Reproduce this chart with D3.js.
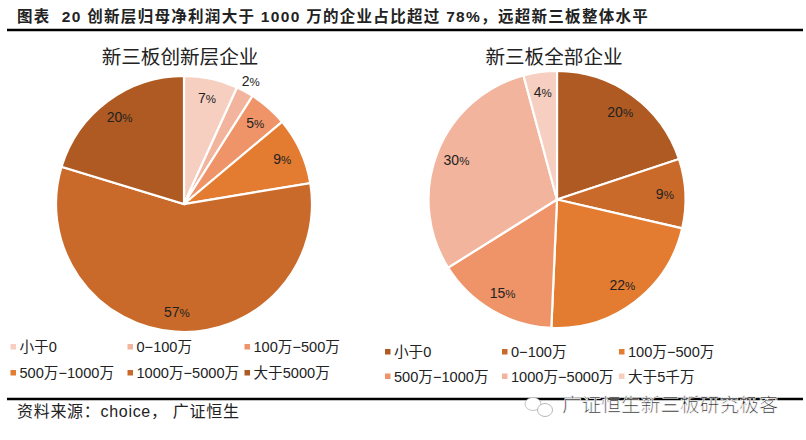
<!DOCTYPE html>
<html><head><meta charset="utf-8">
<script src="https://cdn.jsdelivr.net/npm/d3@7"></script>
<style>
html,body{margin:0;padding:0;background:#fff}
text{font-family:"Liberation Sans","Noto Sans CJK SC",sans-serif;fill:#222}
</style></head><body><svg id="c" width="806" height="440"></svg>
<script>
const heading = "图表  20 创新层归母净利润大于 1000 万的企业占比超过 78%，远超新三板整体水平";
const sourceNote = "资料来源：choice， 广证恒生";
const watermark = "广证恒生新三板研究极客";
const leftTitle = "新三板创新层企业";
const rightTitle = "新三板全部企业";
const leftCategories = ["小于0","0-100万","100万-500万","500万-1000万","1000万-5000万","大于5000万"];
const rightCategories = ["小于0","0-100万","100万-500万","500万-1000万","1000万-5000万","大于5千万"];
const leftValues = [6.8,2.2,4.9,8.5,57.3,20.3];
const rightValues = [19.9,8.7,22.1,15.4,29.7,4.2];
const leftColors = ["#F6CFC1","#F2B49C","#EF9468","#E37B31","#C96A2A","#AE5A22"];
const rightColors = ["#AE5A22","#C96A2A","#E37B31","#EF9468","#F2B49C","#F6CFC1"];

const svg = d3.select("#c");
function rule(y){svg.append("line").attr("x1",7).attr("x2",803).attr("y1",y).attr("y2",y).attr("stroke","#000").attr("stroke-width",2.4);}
rule(30); rule(399);
svg.append("text").attr("x",17).attr("y",22).attr("font-size",15.5).attr("font-weight","bold").attr("letter-spacing",1.3).attr("xml:space","preserve").attr("fill","#111").text(heading);
svg.append("text").attr("x",17).attr("y",417).attr("font-size",16).attr("letter-spacing",0.7).text(sourceNote);

function pie(cfg){
  const g = svg.append("g").attr("transform",`translate(${cfg.cx},${cfg.cy})`);
  const arcs = d3.pie().sort(null)(cfg.values);
  const arc = d3.arc().innerRadius(0).outerRadius(cfg.r);
  g.selectAll("path").data(arcs).join("path").attr("d",arc)
    .attr("fill",(d,i)=>cfg.colors[i]).attr("stroke","#fff").attr("stroke-width",2.2);
  const lab = d3.arc().innerRadius(108).outerRadius(108);
  const out = d3.arc().innerRadius(140).outerRadius(140);
  const t = g.selectAll("text").data(arcs).join("text").attr("text-anchor","middle").attr("dy","0.35em")
    .attr("font-size",14)
    .attr("transform",d=>`translate(${(d.value<3?out:lab).centroid(d)})`);
  t.append("tspan").text(d=>Math.round(d.value));
  t.append("tspan").attr("font-size",11.5).text("%");
  svg.append("text").attr("x",cfg.cx+cfg.tdx).attr("y",cfg.ty).attr("text-anchor","middle").attr("font-size",19.6).attr("fill","#333").text(cfg.title);
  const cols = d3.scalePoint().domain([0,1,2]).range([cfg.lx,cfg.lx+234]);
  const rows = d3.scalePoint().domain([0,1]).range([cfg.ly,cfg.ly+cfg.rowGap]);
  cfg.categories.forEach((c,i)=>{
    const x=cols(i%3), y=rows(Math.floor(i/3));
    svg.append("rect").attr("x",x).attr("y",y-3).attr("width",5.5).attr("height",5.5).attr("fill",cfg.colors[i]);
    svg.append("text").attr("x",x+9).attr("y",y+5).attr("font-size",14.6).attr("fill","#333").text(c.replace("-","−"));
  });
}
pie({cx:184,cy:204,r:128,values:leftValues,colors:leftColors,categories:leftCategories,title:leftTitle,tdx:-4,ty:64,lx:10.5,ly:347,rowGap:26});
pie({cx:557,cy:199.5,r:128.5,values:rightValues,colors:rightColors,categories:rightCategories,title:rightTitle,tdx:-3,ty:64,lx:385,ly:352,rowGap:24.5});

// watermark
const w = svg.append("g");
w.append("text").attr("x",562).attr("y",412).attr("font-size",19.7)
  .attr("fill","#777").attr("stroke","#fff").attr("stroke-width",0.7).text(watermark);
w.append("ellipse").attr("cx",533).attr("cy",404).attr("rx",8).attr("ry",6.5).attr("fill","#fff").attr("stroke","#aaa").attr("stroke-width",0.7);
w.append("ellipse").attr("cx",545).attr("cy",410).attr("rx",7.5).attr("ry",6.5).attr("fill","#fff").attr("stroke","#999").attr("stroke-width",0.7);
</script></body></html>
